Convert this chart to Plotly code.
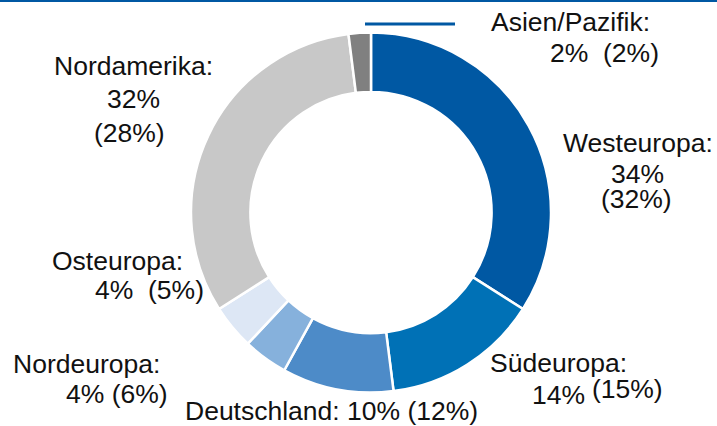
import plotly.graph_objects as go

W, H = 717, 426

regions = ["Westeuropa", "Südeuropa", "Deutschland", "Nordeuropa", "Osteuropa", "Nordamerika", "Asien/Pazifik"]
share = [34, 14, 10, 4, 4, 32, 2]
prev_share = [32, 15, 12, 6, 5, 28, 2]
colors = ["#0058A3", "#0071B6", "#4D8BC8", "#86B1DC", "#DDE7F5", "#C8C8C8", "#808080"]

# label line templates and pixel positions (centre x, centre y)
label_lines = {
    "Westeuropa": [("{n}:", 638, 143), ("{v}%", 637, 174), ("({p}%)", 636, 199)],
    "Südeuropa": [("{n}:", 558, 363), ("{v}%", 558, 395), ("({p}%)", 627, 389)],
    "Deutschland": [("{n}: {v}% ({p}%)", 331, 411)],
    "Nordeuropa": [("{n}:", 86, 364), ("{v}% ({p}%)", 117, 394)],
    "Osteuropa": [("{n}:", 117, 261), ("{v}%  ({p}%)", 149, 290)],
    "Nordamerika": [("{n}:", 133, 66), ("{v}%", 133, 99), ("({p}%)", 129, 133)],
    "Asien/Pazifik": [("{n}:", 570, 22), ("{v}%  ({p}%)", 604, 53)],
}

cx, cy, R = 371, 212.5, 180

fig = go.Figure(go.Pie(
    labels=regions,
    values=share,
    sort=False,
    direction="clockwise",
    rotation=0,
    hole=0.67,
    marker=dict(colors=colors, line=dict(color="white", width=2.5)),
    textinfo="none",
    hoverinfo="label+value",
    domain=dict(x=[(cx - R) / W, (cx + R) / W], y=[1 - (cy + R) / H, 1 - (cy - R) / H]),
))

annotations = []
for n, v, p in zip(regions, share, prev_share):
    for tpl, px, py in label_lines[n]:
        annotations.append(dict(
            text=tpl.format(n=n, v=v, p=p),
            x=px / W, y=1 - py / H, xref="paper", yref="paper",
            xanchor="center", yanchor="middle", showarrow=False,
            font=dict(family="Liberation Sans, Arial, sans-serif", size=26.5, color="#111111"),
        ))

shapes = [
    dict(type="line", xref="paper", yref="paper", x0=0, x1=1, y0=1 - 1 / H, y1=1 - 1 / H,
         line=dict(color="#0058A3", width=2)),
    dict(type="line", xref="paper", yref="paper", x0=365 / W, x1=455 / W, y0=1 - 24 / H, y1=1 - 24 / H,
         line=dict(color="#0058A3", width=3)),
]

fig.update_layout(
    width=W, height=H,
    margin=dict(l=0, r=0, t=0, b=0),
    paper_bgcolor="white", plot_bgcolor="white",
    showlegend=False,
    annotations=annotations,
    shapes=shapes,
)

fig.write_html("out.html", config={"displayModeBar": False},
               post_script="document.body.style.margin='0px';")
